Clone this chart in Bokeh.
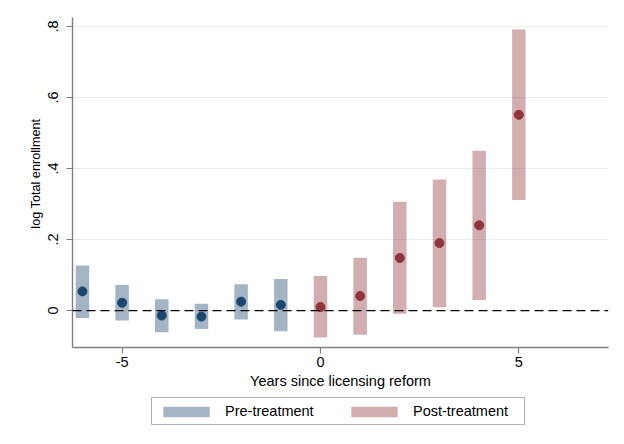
from bokeh.plotting import figure
from bokeh.layouts import column
from bokeh.models import Range1d, FixedTicker, Span, Legend, LegendItem, ColumnDataSource
from bokeh.embed import file_html
from bokeh.resources import INLINE

# ---- data ----
pre_years = [-6, -5, -4, -3, -2, -1]
pre_coef = [0.054, 0.022, -0.014, -0.017, 0.025, 0.016]
pre_lo = [-0.021, -0.028, -0.061, -0.052, -0.025, -0.058]
pre_hi = [0.127, 0.072, 0.032, 0.019, 0.074, 0.089]

post_years = [0, 1, 2, 3, 4, 5]
post_coef = [0.010, 0.041, 0.148, 0.190, 0.240, 0.551]
post_lo = [-0.076, -0.068, -0.009, 0.009, 0.030, 0.311]
post_hi = [0.097, 0.149, 0.306, 0.369, 0.450, 0.791]

x_ticks = [-5, 0, 5]
x_tick_labels = ["-5", "0", "5"]
y_ticks = [0, 0.2, 0.4, 0.6, 0.8]
y_tick_labels = ["0", ".2", ".4", ".6", ".8"]

legend_labels = ["Pre-treatment", "Post-treatment"]

NAVY = "#1a476f"
MAROON = "#90353b"
FONT = "Liberation Sans"

pre = ColumnDataSource(dict(x=pre_years, y=pre_coef, lo=pre_lo, hi=pre_hi))
post = ColumnDataSource(dict(x=post_years, y=post_coef, lo=post_lo, hi=post_hi))

W = 624
H_MAIN = 393
H_LEG = 444 - H_MAIN

p = figure(width=W, height=H_MAIN, output_backend="svg", toolbar_location=None,
           x_range=Range1d(-6.25, 7.26), y_range=Range1d(-0.104, 0.825),
           min_border_left=72, min_border_right=16, min_border_top=17, min_border_bottom=46)
p.background_fill_color = "white"
p.border_fill_color = "white"
p.outline_line_color = None

# grid
p.xgrid.visible = False
p.ygrid.ticker = FixedTicker(ticks=[t for t in y_ticks if t != 0])
p.ygrid.grid_line_color = "#e6eef2"
p.ygrid.grid_line_width = 1

# bars
bar_kw = dict(x="x", bottom="lo", top="hi", width=0.34, line_color=None, fill_alpha=0.4)
p.vbar(source=pre, fill_color=NAVY, **bar_kw)
p.vbar(source=post, fill_color=MAROON, **bar_kw)

# zero line
p.add_layout(Span(location=0, dimension="width", line_color="black",
                  line_dash="9 5", line_width=1.3))

# points
p.scatter(x="x", y="y", source=pre, size=9, fill_color=NAVY, line_color=NAVY)
p.scatter(x="x", y="y", source=post, size=9, fill_color=MAROON, line_color=MAROON)

# axes
AX = "#7f7f7f"
for ax in (p.xaxis[0], p.yaxis[0]):
    ax.axis_line_color = AX
    ax.axis_line_width = 1.4
    ax.major_tick_line_color = AX
    ax.major_tick_line_width = 1.2
    ax.major_tick_out = 6
    ax.major_tick_in = 0
    ax.minor_tick_line_color = None
    ax.major_label_text_font = FONT
    ax.major_label_text_font_size = "14.5px"
    ax.major_label_text_color = "black"
    ax.axis_label_text_font = FONT
    ax.axis_label_text_font_style = "normal"
    ax.axis_label_text_color = "black"

p.xaxis.ticker = FixedTicker(ticks=x_ticks)
p.xaxis.major_label_overrides = dict(zip(x_ticks, x_tick_labels))
p.xaxis.axis_label = "Years since licensing reform"
p.xaxis.axis_label_text_font_size = "14.5px"
p.xaxis.major_label_standoff = 3
p.xaxis.axis_label_standoff = 3

p.yaxis.ticker = FixedTicker(ticks=y_ticks)
p.yaxis.major_label_overrides = dict(zip(y_ticks, y_tick_labels))
p.yaxis.major_label_orientation = "vertical"
p.yaxis.axis_label = "\u00a0" * 5 + "log Total enrollment"
p.yaxis.axis_label_text_font_size = "12.7px"
p.yaxis.major_label_standoff = 8
p.yaxis.axis_label_standoff = 3

# ---- legend strip (its own small figure below the chart) ----
q = figure(width=W, height=H_LEG, output_backend="svg", toolbar_location=None,
           x_range=Range1d(1000, 1001), y_range=Range1d(1000, 1001),
           min_border=0, x_axis_location=None, y_axis_location=None)
q.background_fill_color = "white"
q.border_fill_color = "white"
q.outline_line_color = None
q.xgrid.visible = False
q.ygrid.visible = False
lr_pre = q.vbar(source=pre, fill_color=NAVY, **bar_kw)
lr_post = q.vbar(source=post, fill_color=MAROON, **bar_kw)

legend = Legend(items=[LegendItem(label=legend_labels[0], renderers=[lr_pre]),
                       LegendItem(label=legend_labels[1], renderers=[lr_post])],
                orientation="horizontal", location=(79, 19))
legend.glyph_width = 58
legend.glyph_height = 13
legend.label_width = 106
legend.label_height = 13
legend.label_standoff = 10
legend.spacing = 14
legend.padding = 5
legend.margin = 0
legend.label_text_font = FONT
legend.label_text_font_size = "14.5px"
legend.label_text_color = "black"
legend.border_line_color = "#666666"
legend.border_line_width = 1.2
legend.background_fill_color = "white"
q.add_layout(legend, "center")

layout = column(p, q, spacing=0)
open("out.html", "w").write(file_html(layout, INLINE))
